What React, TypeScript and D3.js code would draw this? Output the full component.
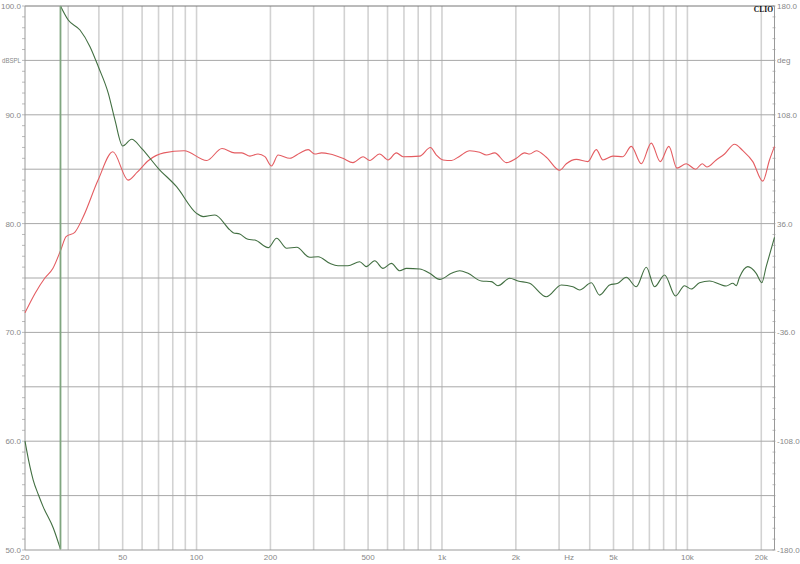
import React from 'react';
import * as d3 from 'd3';

// SPL curve (left axis, dB)
const splFreq = [20, 22, 24.1, 26, 28, 29.4, 31.9, 34.5, 39.7, 45.6, 52.6, 57.2, 63.7, 73.6, 89, 110, 127, 143, 153, 165, 178, 190, 202, 215, 240, 264, 285, 303, 323, 349, 395, 434, 477, 508, 557, 603, 652, 694, 811, 897, 949, 1010, 1093, 1181, 1297, 1424, 1517, 1640, 1830, 2009, 2171, 2276, 2424, 2662, 3016, 3211, 3526, 3932, 4254, 4526, 4970, 5458, 5906, 6486, 7124, 7752, 8404, 9056, 9894, 10796, 11492, 12000, 13108, 14168, 15560, 16820, 18468, 20280, 21600, 22640];
const splDb = [71.8, 73.6, 75.0, 75.9, 77.6, 78.8, 79.2, 80.6, 84.0, 86.6, 84.0, 84.7, 85.8, 86.5, 86.7, 85.8, 86.9, 86.5, 86.5, 86.2, 86.4, 86.15, 85.3, 86.3, 86.0, 86.5, 86.8, 86.4, 86.5, 86.4, 86.0, 85.6, 86.15, 85.8, 86.4, 85.85, 86.5, 86.15, 86.2, 87.0, 86.3, 85.85, 85.8, 86.2, 86.7, 86.55, 86.3, 86.5, 85.6, 86.0, 86.5, 86.4, 86.7, 86.1, 84.9, 85.5, 85.9, 85.7, 86.8, 85.85, 86.2, 86.15, 87.1, 85.5, 87.4, 85.7, 87.1, 85.1, 85.5, 85.0, 85.5, 85.2, 85.85, 86.4, 87.3, 86.7, 85.7, 83.9, 85.85, 87.1];

// phase curve (right axis, deg), wraps from -180 to +180 near 28 Hz
const phaseFreq = [20, 20.3, 21.6, 22.7, 23.7, 26.1, 27.9, 27.9, 30, 33.5, 36.8, 39.8, 43.7, 46.5, 50, 54.4, 59.7, 69.8, 82.9, 100, 106.4, 118.8, 136.7, 141, 150, 162, 173, 196, 212, 233, 256, 289, 313, 349, 377, 414, 462, 492, 532, 575, 622, 673, 717, 812, 891, 979, 1093, 1181, 1277, 1447, 1589, 1691, 1888, 2040, 2276, 2662, 3064, 3416, 3638, 4060, 4388, 4820, 5208, 5636, 6188, 6800, 7348, 8072, 8948, 9736, 10366, 11204, 12306, 14392, 15312, 15806, 16304, 17620, 19066, 20094, 20940, 22640];
const phaseDeg = [-107.9, -113.8, -133.7, -143.6, -151.3, -165.6, -179.5, 180, 170.7, 164.1, 153.1, 139.8, 122.2, 104.6, 87.4, 91.8, 85.8, 72.6, 60.4, 42.8, 40.6, 41.7, 31.8, 30.0, 29.1, 25.6, 25.1, 20.1, 26.3, 19.7, 20.3, 13.7, 14.1, 9.7, 8.1, 8.1, 10.8, 7.5, 11.4, 6.4, 9.7, 4.8, 6.4, 6.0, 3.1, -0.9, 3.1, 4.8, 3.1, -2.0, -2.4, -5.1, -0.2, -2.0, -3.5, -12.4, -4.6, -5.8, -7.9, -3.1, -11.3, -4.6, -3.5, 0.5, -5.8, 7.1, -5.8, 2.0, -11.9, -5.1, -7.3, -3.1, -2.0, -5.3, -3.5, -5.1, 0.5, 7.5, 3.1, -3.1, 7.5, 26.9];

const leftTickValues = [100, 95, 90, 80, 70, 60, 50];
const leftTickLabels = ['100.0', 'dBSPL', '90.0', '80.0', '70.0', '60.0', '50.0'];
const rightTickValues = [180, 144, 108, 36, -36, -108, -180];
const rightTickLabels = ['180.0', 'deg', '108.0', '36.0', '-36.0', '-108.0', '-180.0'];
const bottomTickValues = [20, 50, 100, 200, 500, 1000, 2000, 3300, 5000, 10000, 20000];
const bottomTickLabels = ['20', '50', '100', '200', '500', '1k', '2k', 'Hz', '5k', '10k', '20k'];

const W = 800;
const H = 564;
const left = 25;
const right = 774.5;
const top = 6;
const bottom = 550;

const App = () => {
  const x = d3.scaleLog().domain([20, 22640]).range([left, right]);
  const yDb = d3.scaleLinear().domain([50, 100]).range([bottom, top]);
  const yDeg = d3.scaleLinear().domain([-180, 180]).range([bottom, top]);

  const vGrid: number[] = [];
  [10, 100, 1000, 10000].forEach((dec) => {
    for (let k = 1; k <= 9; k++) {
      const f = dec * k;
      if (f > 20 && f < 22640) vGrid.push(f);
    }
  });
  const hGrid = d3.range(55, 100, 5);
  const minor = d3.range(50, 100.01, 1);

  const spl = splFreq.map((f, i) => [f, splDb[i]] as [number, number]);
  const phase = phaseFreq.map((f, i) => [f, phaseDeg[i]] as [number, number]);
  // split phase at wraps
  const segs: [number, number][][] = [[]];
  phase.forEach((p, i) => {
    if (i > 0 && Math.abs(p[1] - phase[i - 1][1]) > 180) segs.push([]);
    segs[segs.length - 1].push(p);
  });

  const splLine = d3
    .line<[number, number]>()
    .x((d) => x(d[0]))
    .y((d) => yDb(d[1]))
    .curve(d3.curveMonotoneX);
  const phaseLine = d3
    .line<[number, number]>()
    .x((d) => x(d[0]))
    .y((d) => yDeg(d[1]))
    .curve(d3.curveMonotoneX);

  const font = 'Liberation Sans, Arial, sans-serif';

  return (
    <svg width={W} height={H} style={{ position: 'absolute', left: 0, top: 0, background: '#fff' }}>
      <rect x={0} y={0} width={W} height={H} fill="#fff" />
      {vGrid.map((f) => (
        <line key={'v' + f} x1={x(f)} x2={x(f)} y1={top} y2={bottom} stroke="#d2d2d2" strokeWidth={1.6} />
      ))}
      {hGrid.map((v) => (
        <line key={'h' + v} x1={left} x2={right} y1={yDb(v)} y2={yDb(v)} stroke="#a8a8a8" strokeWidth={1} />
      ))}
      {minor.map((v) => (
        <g key={'m' + v}>
          <line x1={left - 3} x2={left} y1={yDb(v)} y2={yDb(v)} stroke="#aaa" strokeWidth={0.8} />
          <line x1={right - 2} x2={right + 1} y1={yDb(v)} y2={yDb(v)} stroke="#aaa" strokeWidth={0.8} />
        </g>
      ))}
      <line x1={left} x2={right} y1={top} y2={top} stroke="#777" strokeWidth={1} />
      <line x1={left} x2={right} y1={bottom} y2={bottom} stroke="#999" strokeWidth={1} />
      <line x1={left} x2={left} y1={top} y2={bottom} stroke="#999" strokeWidth={1} />
      <line x1={right} x2={right} y1={top} y2={bottom} stroke="#999" strokeWidth={1} />

      <path d={splLine(spl) || ''} fill="none" stroke="#e45c61" strokeWidth={1.1} />
      {segs.map((s, i) => (
        <path key={'p' + i} d={phaseLine(s) || ''} fill="none" stroke="#426f42" strokeWidth={1.1} />
      ))}
      {segs.slice(1).map((s, i) => {
        const a = segs[i][segs[i].length - 1];
        const b = s[0];
        return (
          <line
            key={'w' + i}
            x1={x(a[0])}
            x2={x(b[0])}
            y1={yDeg(a[1])}
            y2={yDeg(b[1])}
            stroke="#7fa57f"
            strokeWidth={1.8}
          />
        );
      })}

      {leftTickValues.map((v, i) => (
        <text
          key={'l' + v}
          x={21}
          y={yDb(v) + 3}
          textAnchor="end"
          fontFamily={font}
          fontSize={8}
          fill="#888"
          textLength={leftTickLabels[i] === 'dBSPL' ? 19 : undefined}
          lengthAdjust="spacingAndGlyphs"
        >
          {leftTickLabels[i]}
        </text>
      ))}
      {rightTickValues.map((v, i) => (
        <text key={'r' + v} x={777} y={yDeg(v) + 3} textAnchor="start" fontFamily={font} fontSize={8} fill="#888">
          {rightTickLabels[i]}
        </text>
      ))}
      {bottomTickValues.map((v, i) => (
        <text key={'b' + v} x={x(v)} y={560} textAnchor="middle" fontFamily={font} fontSize={8} fill="#888">
          {bottomTickLabels[i]}
        </text>
      ))}
      <text x={773} y={12} textAnchor="end" fontFamily="Liberation Serif, Times New Roman, serif" fontWeight="bold" fontSize={7.5} fill="#111">
        CLIO
      </text>
    </svg>
  );
};

export default App;
